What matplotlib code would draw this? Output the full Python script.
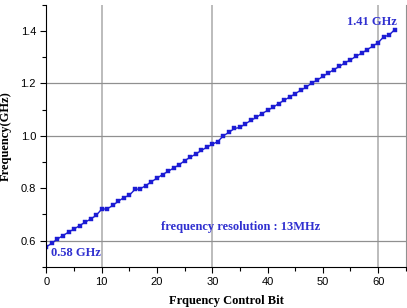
import matplotlib
matplotlib.use('Agg')
import matplotlib.pyplot as plt
from matplotlib.ticker import MultipleLocator

# Frequency control bit vs. output frequency (GHz)
bits = list(range(64))
freq = [0.576, 0.590, 0.606, 0.619, 0.632, 0.644, 0.657, 0.670, 0.682, 0.696,
        0.720, 0.721, 0.734, 0.750, 0.764, 0.773, 0.795, 0.798, 0.810, 0.825,
        0.838, 0.852, 0.864, 0.877, 0.889, 0.905, 0.918, 0.930, 0.944, 0.956,
        0.968, 0.978, 1.000, 1.013, 1.028, 1.032, 1.046, 1.059, 1.071, 1.085,
        1.097, 1.109, 1.123, 1.136, 1.148, 1.161, 1.174, 1.186, 1.202, 1.213,
        1.227, 1.240, 1.253, 1.265, 1.279, 1.290, 1.304, 1.315, 1.329, 1.342,
        1.356, 1.378, 1.385, 1.406]

grid_x = [10, 30, 60]
grid_y = [0.6, 1.0, 1.2]

blue = '#1c1cd4'
text_blue = '#3030d0'
serif = ['Liberation Serif', 'DejaVu Serif']

fig = plt.figure(figsize=(4.07, 3.08), dpi=100)
ax = fig.add_axes([0.114, 0.134, 0.883, 0.85])

for gx in grid_x:
    ax.axvline(gx, color='#b0b0b0', lw=1.2, zorder=0)
for gy in grid_y:
    ax.axhline(gy, color='#909090', lw=0.9, zorder=0)

ax.plot(bits, freq, color=blue, lw=1.0, marker='s', ms=2.6, mew=0.3,
        mec=blue)

ax.set_xlim(0, 65)
ax.set_ylim(0.5, 1.5)
ax.xaxis.set_major_locator(MultipleLocator(10))
ax.xaxis.set_minor_locator(MultipleLocator(5))
ax.yaxis.set_minor_locator(MultipleLocator(0.1))
ax.set_yticks([0.6, 0.8, 1.0, 1.2, 1.4])
ax.set_yticklabels(['0.6', '0.8', '1.0', '1.2', '1.4'])

ax.spines['top'].set_visible(False)
ax.spines['right'].set_color('#909090')
ax.tick_params(which='both', direction='out', width=0.8, labelsize=8,
               colors='black', right=False, top=False)
ax.tick_params(which='major', length=4)
ax.tick_params(which='minor', length=3)
for lbl in ax.get_xticklabels() + ax.get_yticklabels():
    lbl.set_family(['Liberation Sans', 'DejaVu Sans'])

ax.set_xlabel('Frquency Control Bit', family=serif, fontweight='bold',
              fontsize=9, labelpad=6)
ax.set_ylabel('Frequency(GHz)', family=serif, fontweight='bold',
              fontsize=9, labelpad=6)

ax.text(54.3, 1.434, '1.41 GHz', color=text_blue, family=serif,
        fontweight='bold', fontsize=9, va='center')
ax.text(0.85, 0.551, '0.58 GHz', color=text_blue, family=serif,
        fontweight='bold', fontsize=9, va='center')
ax.text(20.7, 0.653, 'frequency resolution : 13MHz', color=text_blue,
        family=serif, fontweight='bold', fontsize=9, va='center')

fig.savefig('out.png', dpi=100)
